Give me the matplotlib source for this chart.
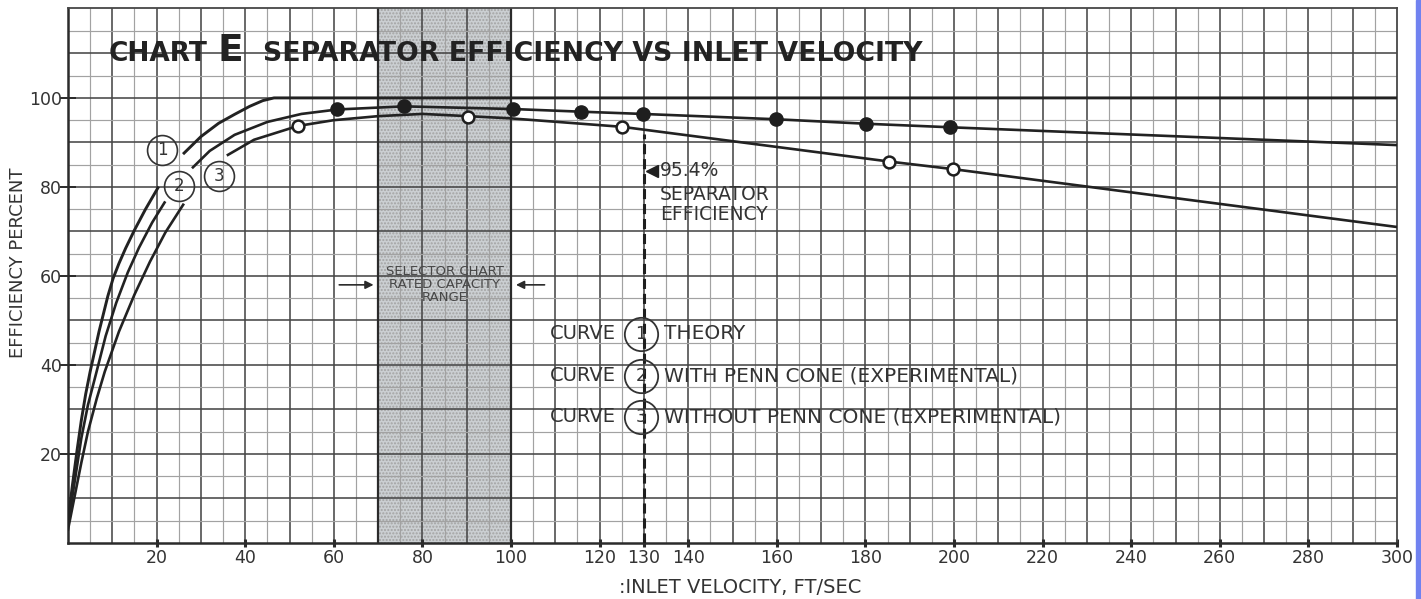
import numpy as np
import matplotlib
matplotlib.use('Agg')
from matplotlib import pyplot as plt
from matplotlib.patches import Rectangle

# curve 1 - theory (nan = gap behind the circled numbers)
theory_v = [0, 1, 2, 3, 4, 5, 6, 7, 8, 9, 10.2, 11.5, 13, 15, 17.5, 20.3, np.nan,
            26.2, 30, 34, 37.6, 41, 44, 46.5, 300]
theory_e = [5, 13, 20.5, 27.5, 33.5, 38.5, 43, 47.5, 51.5, 55.5, 59.5, 62.8, 66.2, 70.3, 75, 79.8, np.nan,
            87.6, 91.3, 94.3, 96.3, 98.1, 99.4, 100, 100]

# curve 2 - with penn cone
penn_line_v = [0, 1, 2, 3, 4.5, 6.4, 8.5, 10.9, 13.5, 16, 19, 21.8, np.nan,
               28.2, 32, 37.6, 45, 52.7, 60.8, 75.9, 100.5, 115.9, 129.7, 159.9, 180.1, 199.2, 300]
penn_line_e = [4, 10.5, 17, 23.5, 31, 38.3, 46.5, 54, 60.8, 66.3, 72, 76.5, np.nan,
               84.4, 88.1, 91.7, 94.6, 96.4, 97.4, 98.1, 97.5, 96.9, 96.4, 95.2, 94.2, 93.4, 89.4]
penn_v = [60.8, 75.9, 100.5, 115.9, 129.7, 159.9, 180.1, 199.2]
penn_e = [97.4, 98.1, 97.5, 96.9, 96.4, 95.2, 94.2, 93.4]

# curve 3 - without penn cone
nopenn_line_v = [0, 1.5, 3, 4.5, 6.5, 8.3, 11.5, 15, 18.5, 22, 26, np.nan,
                 36.1, 42, 51.9, 60, 70, 80, 90.3, 100, 125.1, 185.4, 199.8, 300]
nopenn_line_e = [3, 10.5, 18, 25, 32.5, 38.5, 47.5, 55.8, 63.2, 69.8, 76.0, np.nan,
                 87.2, 90.6, 93.7, 95.0, 95.9, 96.4, 95.9, 95.4, 93.5, 85.7, 84.0, 71.0]
nopenn_v = [51.9, 90.3, 125.1, 185.4, 199.8]
nopenn_e = [93.7, 95.7, 93.5, 85.7, 84.0]

xticks = [20, 40, 60, 80, 100, 120, 130, 140, 160, 180, 200, 220, 240, 260, 280, 300]
yticks = [20, 40, 60, 80, 100]
rated_range = [70, 100]
design_v = 130

legend_labels = ['THEORY', 'WITH PENN CONE (EXPERIMENTAL)', 'WITHOUT PENN CONE (EXPERIMENTAL)']

ink = '#2b2b2b'
txt = '#333333'

fig = plt.figure(figsize=(14.21, 5.99), dpi=100)
ax = fig.add_axes([68 / 1421, 56 / 599, 1329 / 1421, 535 / 599])
ax.set_xlim(0, 300)
ax.set_ylim(0, 120.2)

# graph paper
for v in np.arange(5, 300, 5):
    major = v % 10 == 0
    ax.axvline(v, color='#474747' if major else '#a2a2a2', lw=1.15 if major else 0.85, zorder=1)
for e in np.arange(5, 120, 5):
    major = e % 10 == 0
    ax.axhline(e, color='#474747' if major else '#a2a2a2', lw=1.15 if major else 0.85, zorder=1)

# rated capacity band
ax.axvspan(rated_range[0], rated_range[1], facecolor='#cbcfd2', edgecolor='#a3a3a3',
           hatch='.....', lw=0, zorder=0.5)
ax.axvline(rated_range[0], color=ink, lw=1.6, zorder=1.2)
ax.axvline(rated_range[1], color=ink, lw=1.6, zorder=1.2)

# curves
ax.plot(theory_v, theory_e, color='#222222', lw=2.1, zorder=4)
ax.plot(penn_line_v, penn_line_e, color='#222222', lw=1.9, zorder=4)
ax.plot(nopenn_line_v, nopenn_line_e, color='#222222', lw=1.9, zorder=4)
ax.plot(penn_v, penn_e, 'o', color='#1e1e1e', ms=9.5, zorder=5)
ax.plot(nopenn_v, nopenn_e, 'o', mfc='white', mec='#1e1e1e', mew=1.8, ms=8.5, zorder=5)

# circled curve numbers
for num, cx, cy in [('1', 21.3, 88.3), ('2', 25.1, 80.3), ('3', 34.0, 82.5)]:
    ax.plot(cx, cy, 'o', mfc='none', mec='#333333', mew=1.2, ms=21.5, zorder=5)
    ax.text(cx, cy, num, ha='center', va='center', fontsize=12, color=txt, zorder=6)

# design velocity line
ax.plot([design_v, design_v], [0, 91.8], color='#1e1e1e', lw=2.2, dashes=(3.3, 1.6), zorder=4)
ax.plot(131.9, 83.5, '<', color='#1e1e1e', ms=8, zorder=5)
ax.text(133.6, 83.7, '95.4%', fontsize=13.5, color=txt, va='center', zorder=6)
ax.text(133.6, 78.4, 'SEPARATOR', fontsize=13.5, color=txt, va='center', zorder=6)
ax.text(133.6, 73.7, 'EFFICIENCY', fontsize=13.5, color=txt, va='center', zorder=6)

# selector chart note
ax.text(85.0, 58.0, 'SELECTOR CHART\nRATED CAPACITY\nRANGE', fontsize=9.5, color='#474747',
        ha='center', va='center', linespacing=1.0, zorder=6)
ax.annotate('', xy=(69.6, 58), xytext=(60.6, 58),
            arrowprops=dict(arrowstyle='-|>', color=ink, lw=1.2, mutation_scale=12), zorder=6)
ax.annotate('', xy=(100.5, 58), xytext=(108.2, 58),
            arrowprops=dict(arrowstyle='-|>', color=ink, lw=1.2, mutation_scale=12), zorder=6)

# legend block
for i, (lab, ly) in enumerate(zip(legend_labels, [47.0, 37.6, 28.4])):
    ax.text(108.7, ly, 'CURVE', fontsize=14, color=txt, va='center', zorder=6)
    ax.plot(129.3, ly, 'o', mfc='none', mec='#333333', mew=1.3, ms=24, zorder=5)
    ax.text(129.3, ly, str(i + 1), fontsize=12.5, color=txt, ha='center', va='center', zorder=6)
    ax.text(134.6, ly, lab, fontsize=14.5, color=txt, va='center', zorder=6)

# title
ax.text(9.1, 108.3, 'CHART', fontsize=19, fontweight='heavy', color='#222222', va='baseline', zorder=6)
ax.text(33.8, 108.3, 'E', fontsize=27, fontweight='heavy', color='#222222', va='baseline', zorder=6)
ax.text(44.1, 108.3, 'SEPARATOR EFFICIENCY VS INLET VELOCITY', fontsize=19.3, fontweight='heavy',
        color='#222222', va='baseline', zorder=6)

# axes
ax.set_xticks(xticks)
ax.set_yticks(yticks)
ax.tick_params(axis='x', direction='inout', length=6, width=2.2, color=ink, labelsize=12.5,
               labelcolor=txt, pad=1)
ax.tick_params(axis='y', direction='inout', length=12, width=1.4, color=ink, labelsize=12.5,
               labelcolor=txt, pad=-1.5)
for s in ax.spines.values():
    s.set_color('#474747')
    s.set_linewidth(1.3)
ax.spines['left'].set_color(ink)
ax.spines['left'].set_linewidth(1.8)
ax.spines['bottom'].set_color(ink)
ax.spines['bottom'].set_linewidth(1.8)

ax.text(0.506, -0.084, ':INLET VELOCITY, FT/SEC', transform=ax.transAxes, fontsize=14,
        color=txt, ha='center', va='center')
ax.text(-0.0376, 0.523, 'EFFICIENCY PERCENT', transform=ax.transAxes, fontsize=13,
        color=txt, ha='center', va='center', rotation=90)

# blue scan edge on the right
fig.patches.append(Rectangle((1416 / 1421, 0), 5 / 1421, 1, transform=fig.transFigure,
                             color='#7082f0'))

fig.savefig('out.png', dpi=100)
